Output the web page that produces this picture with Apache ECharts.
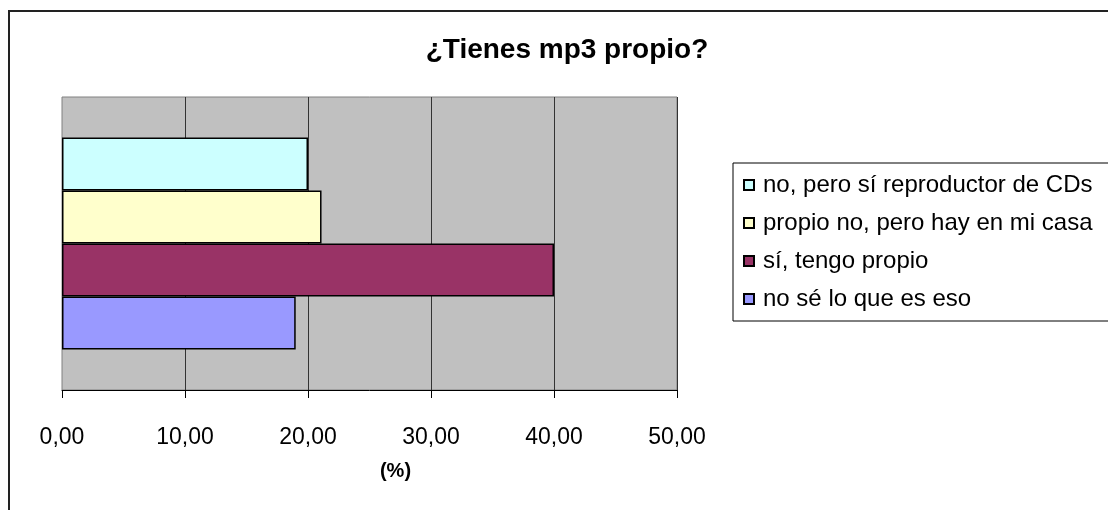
<!DOCTYPE html>
<html>
<head>
<meta charset="utf-8">
<script src="https://cdn.jsdelivr.net/npm/echarts@6/dist/echarts.min.js"></script>
<style>
html,body{margin:0;padding:0;background:#fff;}
#main{width:1108px;height:510px;}
</style>
</head>
<body>
<div id="main"></div>
<script>
const categories = ['Total'];
const seriesNames = ['no, pero sí reproductor de CDs', 'propio no, pero hay en mi casa', 'sí, tengo propio', 'no sé lo que es eso'];
const seriesValues = [[20.0], [21.1], [40.0], [19.0]];
const seriesColors = ['#CCFFFF', '#FFFFCC', '#993366', '#9999FF'];
const xTicks = [0, 10, 20, 30, 40, 50];

const chart = echarts.init(document.getElementById('main'));
const font = 'Arial, "Liberation Sans", sans-serif';
chart.setOption({
  animation: false,
  backgroundColor: '#fff',
  title: {
    text: '¿Tienes mp3 propio?',
    left: 562, top: 31, textAlign: 'center',
    textStyle: {fontFamily: font, fontWeight: 'bold', fontSize: 28, color: '#000'}
  },
  graphic: [{
    type: 'rect', silent: true, z: 100,
    shape: {x: 9, y: 11, width: 1200, height: 600},
    style: {fill: 'none', stroke: '#222', lineWidth: 2}
  }],
  legend: {
    orient: 'vertical',
    left: 733, top: 163,
    padding: [10, 60, 10, 10],
    itemGap: 14,
    itemWidth: 10, itemHeight: 10,
    borderColor: '#000', borderWidth: 1,
    icon: 'rect',
    textStyle: {fontFamily: font, fontSize: 24, color: '#000', padding: [0, 0, 0, 4]},
    data: seriesNames
  },
  grid: {
    left: 62, right: 431, top: 97, bottom: 120,
    show: true, backgroundColor: '#C0C0C0', borderColor: '#808080', borderWidth: 1
  },
  xAxis: {
    type: 'value', min: xTicks[0], max: xTicks[xTicks.length - 1], interval: 10,
    name: '(%)', nameLocation: 'middle', nameGap: 71,
    nameTextStyle: {fontFamily: font, fontWeight: 'bold', fontSize: 20, color: '#000', padding: [0, 0, 0, 52]},
    axisLine: {show: true, lineStyle: {color: '#000', width: 1}},
    axisTick: {show: true, length: 8, lineStyle: {color: '#000'}},
    axisLabel: {
      margin: 36, fontFamily: font, fontSize: 23, color: '#000',
      formatter: v => v.toFixed(2).replace('.', ',')
    },
    splitLine: {show: true, showMinLine: false, lineStyle: {color: '#333', width: 1}}
  },
  yAxis: {
    type: 'category', data: categories,
    axisLine: {show: false}, axisTick: {show: false}, axisLabel: {show: false},
    splitLine: {show: false}
  },
  series: seriesNames.map((n, i) => ({
    name: n, type: 'bar', data: seriesValues[i],
    barWidth: 53, barGap: '0%',
    itemStyle: {color: seriesColors[i], borderColor: '#000', borderWidth: 1.5}
  }))
});
</script>
</body>
</html>
